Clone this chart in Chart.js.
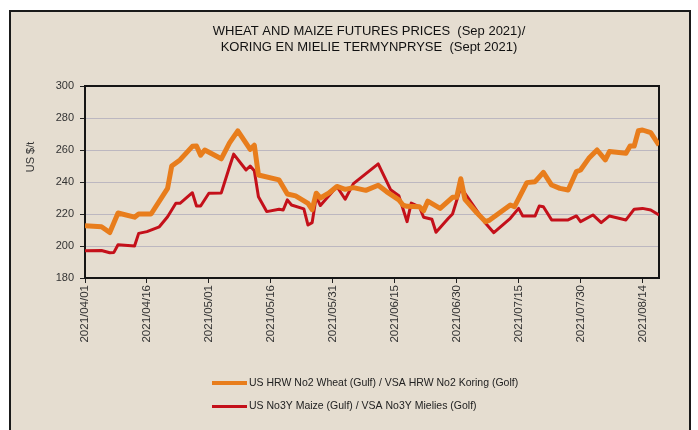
<html lang="en">
<head>
    <meta charset="UTF-8">
    <title>Wheat and Maize Futures Prices</title>
    <style>
        body {
            margin: 0;
            background-color: #ffffff;
            font-family: "Liberation Sans", Arial, sans-serif;
        }
        .frame {
            position: absolute;
            left: 9px;
            top: 10px;
            width: 678px;
            height: 440px;
            border: 2px solid #1a1a1a;
            background-color: #e5ddd0;
        }
        canvas {
            position: absolute;
            left: 0;
            top: 0;
        }
    </style>
</head>
<body>
    <div class="frame"></div>
    <canvas id="priceChart" width="698" height="430"></canvas>

    <script src="https://cdn.jsdelivr.net/npm/chart.js"></script>
    <script>
        // Wheat: US HRW No2 (Gulf), US$/t
        const wheatDates = [
            '2021-04-01', '2021-04-05', '2021-04-07', '2021-04-09', '2021-04-13', '2021-04-14', '2021-04-17',
            '2021-04-21', '2021-04-22', '2021-04-24', '2021-04-27', '2021-04-28', '2021-04-29', '2021-04-30',
            '2021-05-04', '2021-05-06', '2021-05-08', '2021-05-11', '2021-05-12', '2021-05-13', '2021-05-18',
            '2021-05-20', '2021-05-22', '2021-05-25', '2021-05-26', '2021-05-27', '2021-05-28', '2021-05-30',
            '2021-06-01', '2021-06-03', '2021-06-05', '2021-06-08', '2021-06-11', '2021-06-13', '2021-06-16',
            '2021-06-17', '2021-06-18', '2021-06-21', '2021-06-22', '2021-06-23', '2021-06-26', '2021-06-29',
            '2021-06-30', '2021-07-01', '2021-07-02', '2021-07-05', '2021-07-07', '2021-07-08', '2021-07-13',
            '2021-07-14', '2021-07-17', '2021-07-19', '2021-07-21', '2021-07-23', '2021-07-25', '2021-07-27',
            '2021-07-29', '2021-07-30', '2021-08-01', '2021-08-03', '2021-08-05', '2021-08-06', '2021-08-10',
            '2021-08-11', '2021-08-12', '2021-08-13', '2021-08-14', '2021-08-16', '2021-08-18'
        ];
        const wheatPrices = [
            212.6, 212, 208.4, 220.6, 218, 220, 220,
            236, 250, 253.8, 262.3, 262.5, 256.8, 260,
            254.5, 264.5, 272, 260.4, 263, 244.4, 241.3,
            232.5, 231.3, 226.7, 222.7, 233, 230, 233,
            237.2, 235.4, 236.5, 234.8, 238, 234, 228.8,
            225.6, 224.8, 224.5, 222, 228, 223.5, 230.4,
            230.4, 242, 229.2, 220.4, 215.2, 216.2, 225.6,
            224.6, 239.6, 240.2, 246, 238.1, 236, 235,
            246.5, 247.5, 254.8, 260, 253.8, 259, 258,
            262.5, 262.5, 272, 272.5, 270.8, 263
        ];

        // Maize: US No3Y (Gulf), US$/t
        const maizeDates = [
            '2021-04-01', '2021-04-05', '2021-04-07', '2021-04-08', '2021-04-09', '2021-04-13', '2021-04-14',
            '2021-04-16', '2021-04-19', '2021-04-21', '2021-04-23', '2021-04-24', '2021-04-27', '2021-04-28',
            '2021-04-29', '2021-05-01', '2021-05-04', '2021-05-06', '2021-05-07', '2021-05-10', '2021-05-11',
            '2021-05-12', '2021-05-13', '2021-05-15', '2021-05-18', '2021-05-19', '2021-05-20', '2021-05-21',
            '2021-05-24', '2021-05-25', '2021-05-26', '2021-05-27', '2021-05-28', '2021-06-01', '2021-06-03',
            '2021-06-05', '2021-06-11', '2021-06-14', '2021-06-16', '2021-06-18', '2021-06-19', '2021-06-21',
            '2021-06-22', '2021-06-24', '2021-06-25', '2021-06-28', '2021-06-29', '2021-07-01', '2021-07-07',
            '2021-07-09', '2021-07-13', '2021-07-15', '2021-07-16', '2021-07-19', '2021-07-20', '2021-07-21',
            '2021-07-23', '2021-07-27', '2021-07-29', '2021-07-30', '2021-08-02', '2021-08-04', '2021-08-06',
            '2021-08-10', '2021-08-12', '2021-08-14', '2021-08-16', '2021-08-18'
        ];
        const maizePrices = [
            197, 197.2, 195.8, 196, 200.8, 200, 207.9,
            209, 212, 218.3, 226.7, 226.7, 233.3, 225,
            225, 233, 233.2, 249.5, 257.4, 247.5, 250,
            247, 230.8, 221.5, 223, 222.5, 228.8, 225.6,
            223.2, 213.1, 214.6, 230.8, 225.3, 237.2, 229.2,
            239, 251.3, 235.2, 231.4, 215.2, 226.8, 224.4,
            218, 216.7, 208.6, 217.3, 220, 236.7, 214.2,
            208.3, 217.3, 223.5, 218.8, 218.8, 225, 224.5,
            216.3, 216.3, 218.8, 215.2, 219.4, 214.6, 218.8,
            216.3, 223, 223.5, 222.5, 219.4
        ];

        const xTickLabels = [
            '2021/04/01', '2021/04/16', '2021/05/01', '2021/05/16', '2021/05/31',
            '2021/06/15', '2021/06/30', '2021/07/15', '2021/07/30', '2021/08/14'
        ];
        const axisStart = '2021-04-01';
        const axisEnd = '2021-08-18';

        const seriesLabels = [
            'US HRW No2 Wheat (Gulf) / VSA HRW No2 Koring (Golf)',
            'US No3Y Maize (Gulf) / VSA No3Y Mielies (Golf)'
        ];
        const titleLines = [
            'WHEAT AND MAIZE FUTURES PRICES  (Sep 2021)/',
            'KORING EN MIELIE TERMYNPRYSE  (Sept 2021)'
        ];

        // days since axis start
        function dayOf(str) {
            const p = str.replace(/\//g, '-').split('-').map(Number);
            const s = axisStart.split('-').map(Number);
            return (Date.UTC(p[0], p[1] - 1, p[2]) - Date.UTC(s[0], s[1] - 1, s[2])) / 86400000;
        }

        function toPoints(dates, values) {
            return dates.map((d, i) => ({ x: dayOf(d), y: values[i] }));
        }

        const tickDays = xTickLabels.map(dayOf);

        // title, y axis title, frame and legend drawn on the canvas
        const decorations = {
            id: 'decorations',
            beforeDatasetsDraw(chart) {
                const ctx = chart.ctx;
                const a = chart.chartArea;
                ctx.save();
                ctx.strokeStyle = '#151515';
                ctx.lineWidth = 2;
                ctx.strokeRect(a.left, a.top, a.right - a.left, a.bottom - a.top);
                ctx.restore();
            },
            afterDraw(chart) {
                const ctx = chart.ctx;
                ctx.save();
                ctx.fillStyle = '#111';
                ctx.textAlign = 'center';
                ctx.textBaseline = 'middle';
                ctx.font = '13px "Liberation Sans Narrow", "Arial Narrow", Arial, sans-serif';
                ctx.fillText(titleLines[0], 369, 31);
                ctx.fillText(titleLines[1], 369, 47.5);

                ctx.fillStyle = '#333';
                ctx.font = '11px "Liberation Sans", Arial, sans-serif';
                ctx.translate(31, 157);
                ctx.rotate(-Math.PI / 2);
                ctx.fillText('US $/t', 0, 0);
                ctx.restore();

                ctx.save();
                ctx.font = '10.5px "Liberation Sans", Arial, sans-serif';
                ctx.textBaseline = 'middle';
                ctx.textAlign = 'left';
                const rows = [383, 406.5];
                chart.data.datasets.forEach((ds, i) => {
                    ctx.strokeStyle = ds.borderColor;
                    ctx.lineWidth = i === 0 ? 4 : 3;
                    ctx.beginPath();
                    ctx.moveTo(212, rows[i]);
                    ctx.lineTo(247, rows[i]);
                    ctx.stroke();
                    ctx.fillStyle = '#222';
                    ctx.fillText(ds.label, 249, rows[i]);
                });
                ctx.restore();
            }
        };

        const ctx = document.getElementById('priceChart').getContext('2d');
        const priceChart = new Chart(ctx, {
            type: 'line',
            data: {
                datasets: [
                    {
                        label: seriesLabels[0],
                        data: toPoints(wheatDates, wheatPrices),
                        borderColor: '#e87d1c',
                        borderWidth: 5,
                        pointRadius: 0,
                        tension: 0,
                        borderJoinStyle: 'round'
                    },
                    {
                        label: seriesLabels[1],
                        data: toPoints(maizeDates, maizePrices),
                        borderColor: '#c4101a',
                        borderWidth: 3,
                        pointRadius: 0,
                        tension: 0,
                        borderJoinStyle: 'round'
                    }
                ]
            },
            options: {
                responsive: false,
                animation: false,
                devicePixelRatio: 1,
                layout: {
                    padding: { top: 86, left: 0, right: 39, bottom: 0 }
                },
                plugins: {
                    legend: { display: false },
                    title: { display: false },
                    tooltip: { enabled: false }
                },
                scales: {
                    x: {
                        type: 'linear',
                        min: 0,
                        max: dayOf(axisEnd),
                        afterFit(scale) { scale.height = 152; },
                        afterBuildTicks(scale) {
                            scale.ticks = tickDays.map(v => ({ value: v }));
                        },
                        border: { display: false },
                        grid: {
                            drawOnChartArea: false,
                            drawTicks: true,
                            tickLength: 5,
                            tickColor: '#222'
                        },
                        ticks: {
                            autoSkip: false,
                            minRotation: 90,
                            maxRotation: 90,
                            padding: 2,
                            color: '#333',
                            font: { family: '"Liberation Sans", Arial, sans-serif', size: 11.5 },
                            callback: (v) => xTickLabels[tickDays.indexOf(v)]
                        }
                    },
                    y: {
                        min: 180,
                        max: 300,
                        afterFit(scale) { scale.width = 85; },
                        border: { display: false },
                        grid: {
                            color: '#bcb7c0',
                            lineWidth: 1,
                            tickLength: 5,
                            tickColor: '#222'
                        },
                        ticks: {
                            stepSize: 20,
                            padding: 6,
                            color: '#333',
                            font: { family: '"Liberation Sans", Arial, sans-serif', size: 11 }
                        }
                    }
                }
            },
            plugins: [decorations]
        });
    </script>
</body>
</html>
